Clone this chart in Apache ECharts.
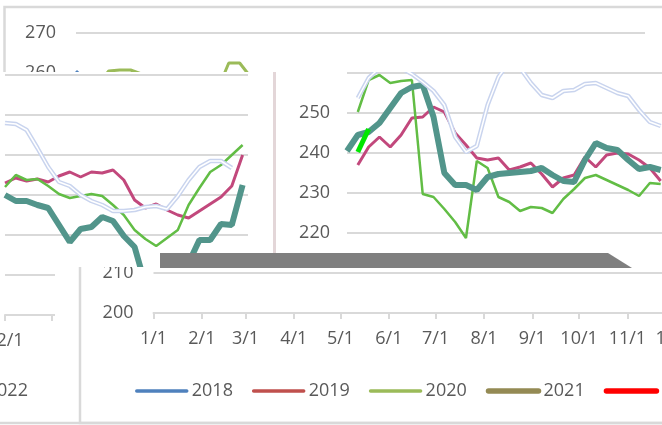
<!DOCTYPE html>
<html>
<head>
<meta charset="utf-8">
<script src="https://cdn.jsdelivr.net/npm/echarts@6.0.0/dist/echarts.min.js"></script>
<style>
  html, body { margin: 0; padding: 0; background: #fff; }
  #stage { position: relative; width: 662px; height: 425px; overflow: hidden; background: #fff; }
  .win { position: absolute; overflow: hidden; background: #fff; }
  .inner { position: absolute; width: 662px; height: 425px; }
  #bar { position: absolute; left: 160px; top: 253px; width: 472px; height: 15px; background: #7f7f7f;
         clip-path: polygon(0 0, 448px 0, 472px 100%, 0 100%); }
</style>
</head>
<body>
<div id="stage">
  <div class="win" style="left:0;top:0;width:662px;height:425px"><div class="inner" id="chartA" style="left:0;top:0"></div></div>
  <div class="win" style="left:0;top:72px;width:276px;height:353px"><div class="inner" id="chartB" style="left:0;top:-72px"></div></div>
  <div class="win" style="left:276px;top:72px;width:386px;height:196px"><div class="inner" id="chartC" style="left:-276px;top:-72px"></div></div>
  <div class="win" style="left:55px;top:267px;width:607px;height:158px"><div class="inner" id="chartD" style="left:-55px;top:-267px"></div></div>
  <div id="bar"></div>
</div>
<script>
// legend / axis
const years = ['2018', '2019', '2020', '2021', '2022'];
const monthStarts = [0, 31, 59, 90, 120, 151, 181, 212, 243, 273, 304, 334];
const monthLabels = ['1/1', '2/1', '3/1', '4/1', '5/1', '6/1', '7/1', '8/1', '9/1', '10/1', '11/1', '12/1'];

// full chart (legend colours), weekly values, only the visible tops
const full2018 = [260.5, 258];
const full2019 = [];
const full2020 = [null, null, 257, 260.5, 260.75, 260.75, 259.75, 255, null, null, null, null, null, 256, 262.5, 262.5, 259];
const full2021 = [];
const full2022 = [];

// left panel, weekly values
const left2018 = [248.0, 247.75, 246.25, 241.75, 237.0, 233.25, 232.25, 230.0, 228.5, 227.5, 226.0, 226.0, 226.25, 227.0, 227.25, 226.5, 229.75, 233.75, 237.0, 238.5, 238.5, 236.75];
const left2019 = [233.0, 234.25, 233.5, 234.0, 233.25, 234.75, 235.75, 234.5, 235.75, 235.5, 236.25, 233.75, 228.75, 226.75, 227.75, 226.25, 225.0, 224.25, 226.0, 227.75, 229.5, 232.25, 240.0];
const left2020 = [232.0, 235.0, 233.75, 234.0, 232.25, 230.25, 229.25, 229.75, 230.25, 229.75, 227.5, 225.0, 221.25, 219.0, 217.25, 219.25, 221.25, 227.5, 231.75, 235.75, 237.5, 240.0, 242.5];
const left2021 = [230.0, 228.5, 228.5, 227.5, 226.75, 222.5, 218.25, 221.5, 222.0, 224.5, 223.5, 219.75, 217.0, 207.5, 206.25, 205.75, 206.25, 213.0, 218.75, 218.75, 222.75, 222.5, 232.5];
const leftTicks = [0, 4.35, 8.7, 13.05, 17.4, 21.75];

// right panel, weekly values
const right2018 = [null, 253.75, 258.75, 261.25, 262.25, 261.25, 259.75, 257.75, 255.5, 252.0, 244.0, 240.25, 241.75, 252.0, 259.0, 262.75, 261.25, 257.5, 254.5, 253.75, 255.5, 255.75, 257.25, 257.5, 256.25, 255.0, 254.25, 250.75, 247.75, 246.75];
const right2019 = [null, 237.0, 241.5, 244.0, 241.5, 244.5, 248.75, 249.0, 251.5, 250.25, 245.0, 242.0, 238.75, 238.25, 238.75, 235.75, 236.5, 237.5, 234.75, 231.5, 233.75, 234.5, 239.0, 236.5, 239.5, 240.0, 239.75, 238.25, 236.25, 233.0];
const right2020 = [null, 250.25, 258.25, 259.5, 257.5, 258.0, 258.25, 229.75, 229.0, 226.0, 222.75, 218.75, 238.0, 236.25, 229.0, 227.75, 225.5, 226.5, 226.25, 225.0, 228.5, 231.0, 233.75, 234.5, 233.25, 232.0, 230.75, 229.25, 232.5, 232.25];
const right2021 = [240.5, 244.5, 245.25, 247.5, 251.25, 255.0, 256.5, 257.0, 249.0, 235.0, 232.0, 232.0, 230.75, 234.0, 234.75, 235.0, 235.25, 235.5, 236.25, 234.5, 233.0, 232.75, 238.25, 242.5, 241.25, 240.75, 238.25, 236.0, 236.5, 235.75];
const right2022 = [null, 240.25, 246.0];

const font = 'Open Sans';
const grey = '#d9d9d9';
const textGrey = '#595959';

const legendColors = ['#4F81BD', '#C0504D', '#9BBB59', '#948A54', '#FF0000'];
const legendWidths = [3, 3, 3, 5, 5];

const weekly = arr => arr.map((v, i) => [i, v]);
const daily = arr => arr.map((v, i) => [i * 7, v]);

function yAxisBase(extra) {
    return Object.assign({
        type: 'value', min: 200, max: 270, interval: 10,
        axisLine: { show: false }, axisTick: { show: false },
        splitLine: { lineStyle: { color: grey, width: 2 } },
    }, extra);
}

const legendBase = {
    top: 377, itemWidth: 50, itemHeight: 12, itemGap: 19, width: 900,
    itemStyle: { opacity: 0 },
    textStyle: { color: textGrey, fontSize: 18, fontFamily: font }
};
const legendItems = names => names.map(n => ({
    name: n, lineStyle: { width: legendWidths[years.indexOf(n)] + 0.5, cap: 'round' }
}));

function fullOption(left, borderX) {
    const data = [full2018, full2019, full2020, full2021, full2022];
    return {
        animation: false,
        textStyle: { fontFamily: font },
        grid: { left: left, top: 33, width: 569, height: 280, outerBoundsMode: 'none' },
        xAxis: {
            type: 'value', min: 0, max: 365,
            axisLine: { lineStyle: { color: grey, width: 2 } },
            axisTick: { customValues: monthStarts, length: 6, lineStyle: { color: grey, width: 2 } },
            axisLabel: {
                customValues: monthStarts, color: textGrey, fontSize: 18, margin: 17,
                formatter: v => monthLabels[monthStarts.indexOf(v)]
            },
            splitLine: { show: false }
        },
        yAxis: yAxisBase({ axisLabel: { color: textGrey, fontSize: 18, margin: 20 } }),
        legend: Object.assign({}, legendBase, { left: borderX + 50, data: legendItems(years) }),
        graphic: [
            { type: 'rect', silent: true, shape: { x: borderX, y: 7, width: 900, height: 416 },
              style: { fill: 'none', stroke: grey, lineWidth: 2.5 } },
            { type: 'line', silent: true, shape: { x1: 0, y1: 423, x2: 900, y2: 423 },
              style: { stroke: grey, lineWidth: 2.5 } }
        ],
        series: years.map((name, k) => ({
            name, type: 'line', symbol: 'none',
            data: daily(data[k]),
            color: legendColors[k],
            lineStyle: { width: legendWidths[k] }
        }))
    };
}

const ghostLine = (name, arr, xf) => [
    { name, type: 'line', symbol: 'none', data: xf(arr), color: '#c9d4ee', lineStyle: { width: 4.5 }, z: 5 },
    { name, type: 'line', symbol: 'none', data: xf(arr), color: '#ffffff', lineStyle: { width: 1.5 }, z: 6 }
];

const pink = '#c2487c';
const green = '#62bd45';
const teal = '#52958b';

// left panel
const optB = {
    animation: false,
    textStyle: { fontFamily: font },
    grid: { left: 5, top: 35, width: 243, height: 280, outerBoundsMode: 'none' },
    xAxis: {
        type: 'value', min: 0, max: 22.5,
        axisLine: { lineStyle: { color: grey, width: 2 } },
        axisTick: { customValues: leftTicks, length: 6, lineStyle: { color: grey, width: 2 } },
        axisLabel: { customValues: [0], color: textGrey, fontSize: 18, margin: 17, formatter: () => '2/1', padding: [0, 0, 0, 10] },
        splitLine: { show: false }
    },
    yAxis: yAxisBase({ axisLabel: { show: false } }),
    legend: Object.assign({}, legendBase, { left: -76, data: legendItems(['2022']) }),
    graphic: [
        { type: 'line', silent: true, shape: { x1: 274.5, y1: 72, x2: 274.5, y2: 268 },
          style: { stroke: '#e3d6d8', lineWidth: 3 } },
        { type: 'line', silent: true, shape: { x1: 0, y1: 423, x2: 300, y2: 423 },
          style: { stroke: grey, lineWidth: 2.5 } }
    ],
    series: [
        { name: '2019', type: 'line', symbol: 'none', data: weekly(left2019), color: pink, lineStyle: { width: 3 } },
        { name: '2020', type: 'line', symbol: 'none', data: weekly(left2020), color: green, lineStyle: { width: 2.5 } },
        { name: '2021', type: 'line', symbol: 'none', data: weekly(left2021), color: teal, lineStyle: { width: 6 } },
        { name: '2022', type: 'line', symbol: 'none', data: [], color: '#FF0000', lineStyle: { width: 5 } },
        ...ghostLine('2018', left2018, weekly)
    ]
};

// right panel
const optC = {
    animation: false,
    textStyle: { fontFamily: font },
    grid: { left: 347, top: 33, width: 318, height: 280, outerBoundsMode: 'none' },
    xAxis: { type: 'value', min: 0, max: 29.4, show: false },
    yAxis: yAxisBase({
        axisLabel: { color: textGrey, fontSize: 18, margin: 17, formatter: v => (v >= 260 ? '' : v) }
    }),
    series: [
        { name: '2019', type: 'line', symbol: 'none', data: weekly(right2019), color: pink, lineStyle: { width: 3 } },
        { name: '2020', type: 'line', symbol: 'none', data: weekly(right2020), color: green, lineStyle: { width: 2.5 } },
        { name: '2021', type: 'line', symbol: 'none', data: weekly(right2021), color: teal, lineStyle: { width: 6 } },
        { name: '2022', type: 'line', symbol: 'none', data: weekly(right2022), color: '#00e600', lineStyle: { width: 5 }, z: 4 },
        ...ghostLine('2018', right2018, weekly)
    ]
};

echarts.init(document.getElementById('chartA')).setOption(fullOption(76, 4.5));
echarts.init(document.getElementById('chartB')).setOption(optB);
echarts.init(document.getElementById('chartC')).setOption(optC);
echarts.init(document.getElementById('chartD')).setOption(fullOption(153.5, 80));
</script>
</body>
</html>
